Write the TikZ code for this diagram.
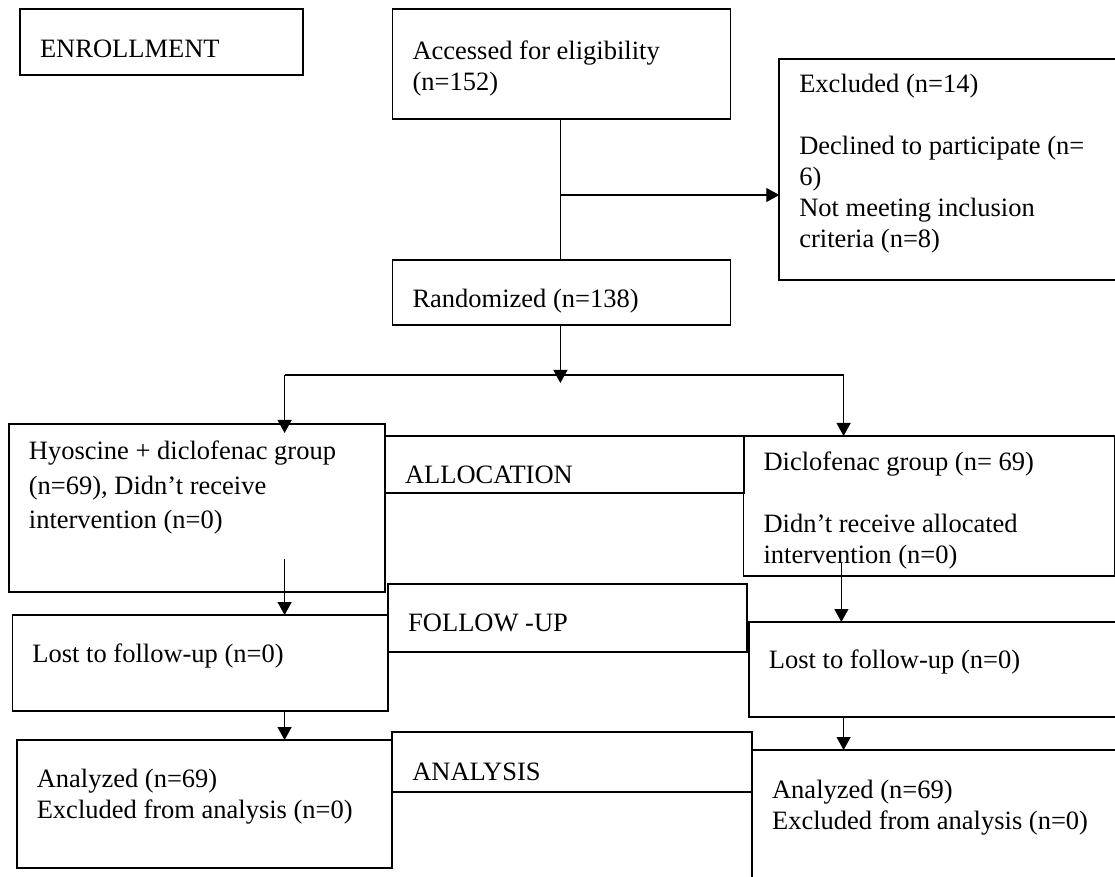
\documentclass[tikz,border=0pt]{standalone}
\usepackage{fontspec}
\setmainfont{Liberation Serif}
\usetikzlibrary{arrows.meta}
\newlength{\px}
\setlength{\px}{0.5pt}
% text block of a box: width, height, first baseline, text
\newcommand{\boxtext}[4]{\parbox[t][#2\px][t]{#1\px}{\rule{0pt}{#3\px}#4}}

\begin{document}
\begin{tikzpicture}[x=\px,y=-\px,
    box/.style={draw, line width=1.8\px, anchor=north west, inner xsep=20\px,
      inner ysep=0pt, outer sep=0pt, font=\fontsize{13.25}{15.5}\selectfont},
    link/.style={line width=1.2\px},
    arr/.style={link, -{Triangle[width=7pt,length=6.5pt]}}]
    \useasboundingbox (0,0) rectangle (1115,877);
    %% enrollment
    \node[box] (enrol) at (20,9) {\boxtext{243}{66}{49}{ENROLLMENT}};
    \node[box, line width=1.5\px] (elig) at (392.5,9)
      {\boxtext{298}{110}{51}{Accessed for eligibility\\(n=152)}};
    \node[box] (excl) at (779.3,59)
      {\boxtext{310}{221}{34}{Excluded (n=14)\\[15.5pt]Declined to participate (n=\\6)\\Not meeting inclusion\\criteria (n=8)}};
    \node[box, line width=1.5\px] (rand) at (392.5,260)
      {\boxtext{298}{65}{48}{Randomized (n=138)}};
    %% allocation
    \node[box] (hyo) at (8.9,424)
      {\boxtext{336}{168}{35}{Hyoscine + diclofenac group\\[2pt](n=69), Didn’t receive\\[2pt]intervention (n=0)}};
    \node[box] (alloc) at (385,436) {\boxtext{318.6}{57}{47}{ALLOCATION}};
    \node[box, line width=1.2\px] (dicl) at (743.6,436)
      {\boxtext{330.7}{140}{35}{Diclofenac group (n= 69)\\[15.5pt]Didn’t receive allocated\\intervention (n=0)}};
    %% follow-up
    \node[box] (follow) at (388.2,584) {\boxtext{319}{68}{48}{FOLLOW -UP}};
    \node[box] (lostL) at (12.5,615) {\boxtext{335.7}{96}{47}{Lost to follow-up (n=0)}};
    \node[box] (lostR) at (748.9,622) {\boxtext{340}{95}{46}{Lost to follow-up (n=0)}};
    %% analysis
    \node[box] (anal) at (392.3,732) {\boxtext{319.8}{60}{48}{ANALYSIS}};
    \node[box] (anaL) at (16.8,740)
      {\boxtext{335.4}{128}{47}{Analyzed (n=69)\\Excluded from analysis (n=0)}};
    \node[box] (anaR) at (752.1,750)
      {\boxtext{340}{150}{48}{Analyzed (n=69)\\Excluded from analysis (n=0)}};
    %% connectors
    \coordinate (trunk) at (560.4,195);
    \coordinate (split) at (560.4,383);
    \coordinate (sl) at (284.6,375);
    \coordinate (sr) at (843.6,375);
    \coordinate (hyoOut) at (284.6,559);
    \coordinate (diclOut) at (841.4,563);
    \draw[link] (elig.south -| trunk) -- (rand.north -| trunk);
    \draw[arr] (trunk) -- (trunk -| excl.west);
    \draw[arr] (rand.south -| split) -- (split);
    \draw[link] (sl) -- (sr);
    \draw[arr] (sl) -- ([yshift=-4.5pt]sl |- hyo.north);
    \draw[arr] (sr) -- (sr |- dicl.north);
    \draw[arr] (hyoOut) -- (hyoOut |- lostL.north);
    \draw[arr] (diclOut) -- (diclOut |- lostR.north);
    \draw[arr] (lostL.south -| hyoOut) -- (anaL.north -| hyoOut);
    \draw[arr] (lostR.south -| sr) -- (anaR.north -| sr);
\end{tikzpicture}
\end{document}
